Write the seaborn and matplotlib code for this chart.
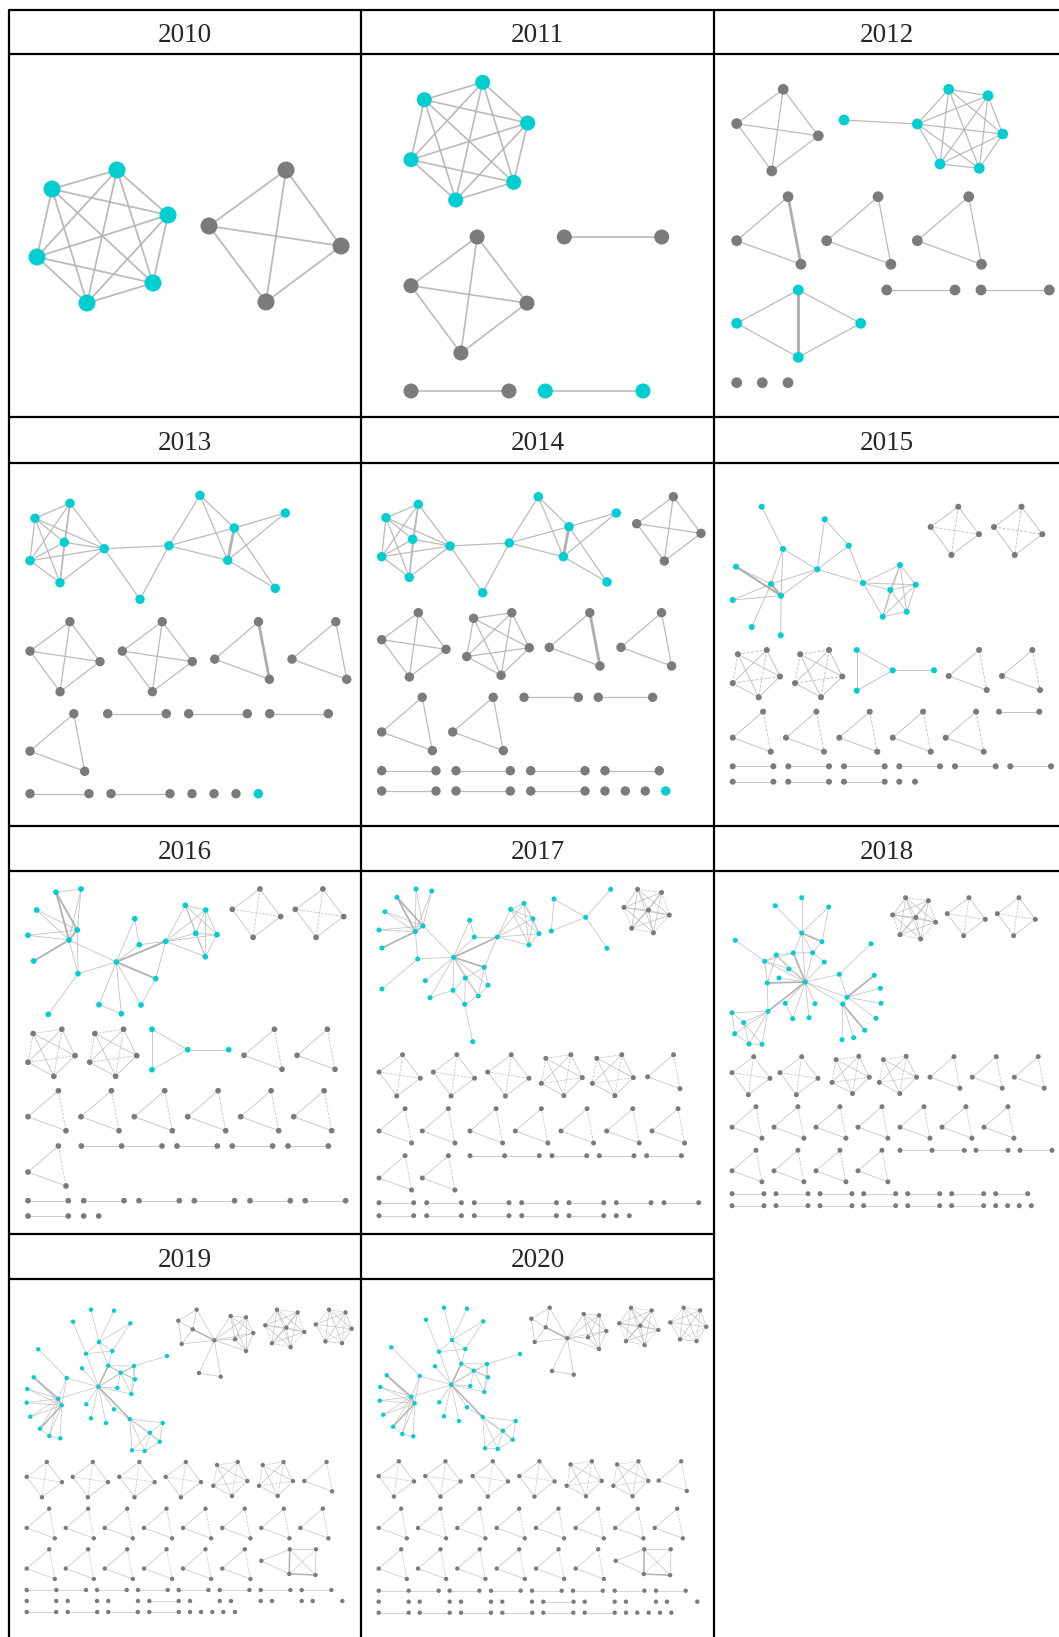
import numpy as np
import pandas as pd
import matplotlib
matplotlib.use("Agg")
import matplotlib.pyplot as plt
from matplotlib.collections import LineCollection
from itertools import combinations
import seaborn as sns

W, H = 1059, 1637
CYAN = "#00CED1"
GRAY = "#7b7b7b"
EDGE = "#b4b4b4"
PALETTE = {"c": CYAN, "g": GRAY}

YEARS = [2010, 2011, 2012, 2013, 2014, 2015, 2016, 2017, 2018, 2019, 2020]

# table grid (pixels)
COL_X = [9, 361, 714, 1059]
ROW_HEAD = [10, 417, 826, 1234]
ROW_TOP = [54, 463, 871, 1279]
ROW_BOT = [417, 826, 1234, 1637]

# unit shapes: nodes, edges, dashed edges, heavy edges
SHAPES = {
    "k4": ([(0.57, 0), (0, 0.42), (1, 0.57), (0.43, 1)],
           list(combinations(range(4), 2)), [(0, 3), (1, 2)], []),
    "k5": ([(0.11, 0.09), (0.72, 0), (1, 0.56), (0.55, 1), (0, 0.70)],
           list(combinations(range(5), 2)), [(0, 1), (1, 3), (2, 4), (0, 4)], []),
    "k6": ([(0.37, 0), (0.83, 0.075), (1, 0.53), (0.73, 0.93), (0.27, 0.88), (0, 0.41)],
           list(combinations(range(6), 2)), [(0, 1), (1, 3), (2, 4), (0, 5), (3, 5)], []),
    "k7": ([(0.30, 0), (0.83, 0.07), (0, 0.40), (0.54, 0.46), (1, 0.57), (0.17, 0.86), (0.65, 0.96)],
           list(combinations(range(7), 2)), [(0, 1), (2, 5), (4, 6), (1, 4), (5, 6)], []),
    "tri": ([(0.76, 0), (0, 0.65), (0.95, 1)], [(0, 1), (1, 2), (0, 2)], [(0, 2)], []),
    "tri_h": ([(0.76, 0), (0, 0.65), (0.95, 1)], [(0, 1), (1, 2), (0, 2)], [], [(0, 2)]),
    "kite5": ([(0, 0.21), (0.52, 0), (1, 0), (0.51, 0.45), (0.99, 0.47)],
              [(0, 1), (0, 3), (1, 3), (1, 2), (1, 4), (2, 4), (3, 4), (2, 3)],
              [(2, 3)], [(1, 3), (3, 4)]),
    "pair": ([(0, 0), (1, 0)], [(0, 1)], [], []),
    "path3": ([(0, 0), (0.5, 0), (1, 0)], [(0, 1), (1, 2)], [], []),
    "dot": ([(0, 0)], [], [], []),
}

# ---- 2010
NODES_2010 = [(108, 116, "c"), (43, 135, "c"), (159, 161, "c"), (28, 203, "c"), (144, 229, "c"),
              (78, 249, "c"), (277, 116, "g"), (200, 172, "g"), (332, 192, "g"), (257, 248, "g")]
CLIQUES_2010 = [(0, 1, 2, 3, 4, 5), (6, 7, 8, 9)]
EDGES_2010, HEAVY_2010, ROWS_2010 = [], [], []

# ---- 2011
NODES_2011 = [(121.7, 28.3, "c"), (63.3, 45.7, "c"), (166.7, 69, "c"), (50, 105.7, "c"),
              (152.7, 128.3, "c"), (94.7, 146, "c")]
CLIQUES_2011 = [(0, 1, 2, 3, 4, 5)]
EDGES_2011, HEAVY_2011 = [], []
ROWS_2011 = [("k4", 183, 116, [50], "g"), ("pair", 183, 97.4, [203.3], "g"),
             ("pair", 337, 98, [50], "g"), ("pair", 337, 97.7, [184.3], "c")]

# ---- 2012
NODES_2012 = [(234.7, 35.3, "c"), (274, 41.7, "c"), (288.7, 80, "c"), (265.3, 114.3, "c"),
              (226, 110, "c"), (203.3, 70, "c"), (130, 66, "c"),
              (84.3, 236, "c"), (22.7, 269.3, "c"), (146.7, 269.3, "c"), (84.3, 303.3, "c")]
CLIQUES_2012 = [(0, 1, 2, 3, 4, 5)]
EDGES_2012 = [(5, 6), (7, 8), (7, 9), (8, 10), (9, 10), (7, 10)]
HEAVY_2012 = [(7, 10)]
ROWS_2012 = [("k4", 35.3, 81.6, [22.7], "g"), ("tri_h", 142.7, 67.6, [22.7], "g"),
             ("tri", 142.7, 67.6, [112.7, 203.3], "g"), ("pair", 236, 68.3, [172.7, 267], "g"),
             ("dot", 328.7, 0, [22.7, 48.3, 74], "g")]

# ---- 2013
NODES_2013 = [(26, 55.3, "c"), (61, 40.3, "c"), (55.3, 79.3, "c"), (21, 97.7, "c"), (51, 119.7, "c"),
              (95.3, 85.7, "c"), (131, 136.3, "c"), (160, 82.7, "c"), (191, 32.3, "c"),
              (225.3, 65, "c"), (218.7, 97.3, "c"), (276.3, 50, "c"), (266.3, 125.3, "c")]
CLIQUES_2013 = [(0, 1, 2, 3, 4, 5)]
EDGES_2013 = [(5, 6), (5, 7), (6, 7), (7, 8), (7, 9), (7, 10), (8, 9), (8, 10),
              (9, 11), (10, 11), (10, 12), (9, 12)]
HEAVY_2013 = [(9, 10)]
ROWS_2013 = [("k4", 158.7, 70, [21, 113.3], "g"), ("tri_h", 158.7, 57.6, [205.7], "g"),
             ("tri", 158.7, 57.6, [283], "g"), ("tri", 250.7, 57.6, [21], "g"),
             ("pair", 250.7, 58.6, [98.7, 179.7, 260.7], "g"), ("pair", 330.7, 59, [21, 102], "g"),
             ("dot", 330.7, 0, [183, 205, 227], "g"), ("dot", 330.7, 0, [249.3], "c")]

# ---- 2014
NODES_2014 = [(25, 54.7, "c"), (57.3, 41.3, "c"), (51.7, 76.3, "c"), (20.7, 93.7, "c"),
              (48.3, 114.3, "c"), (89, 83, "c"), (121.7, 129.7, "c"), (148.3, 80, "c"),
              (177.3, 33.7, "c"), (208, 63.7, "c"), (202.3, 93.7, "c"), (255.3, 50, "c"),
              (246, 119, "c")]
CLIQUES_2014 = [(0, 1, 2, 3, 4, 5)]
EDGES_2014 = EDGES_2013
HEAVY_2014 = [(9, 10)]
ROWS_2014 = [("k4", 33.7, 64.3, [275.7], "g"), ("k4", 149.7, 64.3, [20.7], "g"),
             ("k5", 149.7, 62.6, [105.7], "g"), ("tri_h", 149.7, 53.3, [188.3], "g"),
             ("tri", 149.7, 53.3, [260], "g"), ("tri", 234.3, 53.3, [20.7, 91.7], "g"),
             ("pair", 234.3, 54.3, [163, 237.3], "g"),
             ("pair", 307.7, 54.3, [20.7, 95, 169.7, 244], "g"),
             ("pair", 328, 54.3, [20.7, 95, 169.7], "g"),
             ("dot", 328, 0, [244, 264.3, 284.3], "g"), ("dot", 328, 0, [304.7], "c")]

# ---- 2015
NODES_2015 = [(47.7, 43.7, "c"), (69, 86, "c"), (22, 103.7, "c"), (57, 121, "c"), (67, 132.7, "c"),
              (18.7, 137, "c"), (37.7, 164, "c"), (66.7, 172.3, "c"), (103.3, 106.3, "c"),
              (110.7, 56.3, "c"), (134.7, 82.7, "c"), (149, 120, "c"), (186, 102, "c"),
              (201.7, 121.7, "c"), (176.3, 127, "c"), (192.7, 148.7, "c"), (168.7, 153.7, "c"),
              (142.7, 187, "c"), (142.7, 227.7, "c"), (178.7, 207.3, "c"), (220, 207.3, "c")]
CLIQUES_2015 = [(12, 13, 14, 15, 16)]
EDGES_2015 = [(0, 1), (1, 3), (1, 4), (1, 8), (2, 3), (2, 4), (3, 4), (3, 5), (4, 5), (3, 6),
              (4, 7), (3, 8), (4, 8), (8, 9), (8, 10), (9, 10), (8, 11), (10, 11), (11, 12),
              (11, 13), (11, 14), (11, 16), (17, 18), (17, 19), (18, 19), (19, 20)]
HEAVY_2015 = [(2, 4), (3, 4)]
ROWS_2015 = [("k4", 43.7, 48.3, [216.7, 280], "g"), ("k5", 187, 47.3, [18.7, 81], "g"),
             ("tri", 187, 40, [234.7, 288], "g"), ("pair", 248.7, 40.3, [285], "g"),
             ("tri", 248.7, 40, [18.7, 72, 125.3, 178.7, 231.7], "g"),
             ("pair", 303.3, 40.7, [18.7, 74.3, 130, 185.3, 241, 296.3], "g"),
             ("pair", 318.7, 40.7, [18.7, 74.3, 130], "g"), ("dot", 318.7, 0, [185.3, 201], "g")]

# ---- 2016
NODES_2016 = [(47, 21.3, "c"), (72, 18, "c"), (27.7, 39, "c"), (19, 64.3, "c"), (68.3, 59, "c"),
              (60, 69, "c"), (24.7, 90, "c"), (69, 102.7, "c"), (39.3, 143.3, "c"), (107.3, 91, "c"),
              (125.7, 47.7, "c"), (130.3, 73.7, "c"), (156.7, 70.3, "c"), (146.7, 107.7, "c"),
              (90, 133.7, "c"), (112.3, 142.7, "c"), (132, 134, "c"), (176.3, 34.3, "c"),
              (196.7, 39, "c"), (186.7, 62.3, "c"), (208, 63.7, "c"), (196.3, 85.7, "c"),
              (143, 158.3, "c"), (143, 198.7, "c"), (178.7, 178.7, "c"), (219.7, 178.7, "c")]
CLIQUES_2016 = [(17, 18, 19, 20, 21)]
EDGES_2016 = [(0, 1), (0, 4), (0, 5), (1, 4), (1, 5), (2, 4), (2, 5), (3, 4), (3, 5), (4, 5), (6, 5),
              (4, 7), (5, 7), (5, 9), (7, 9), (7, 8), (9, 10), (9, 11), (10, 11), (9, 12), (9, 13),
              (12, 13), (9, 14), (9, 15), (14, 15), (9, 16), (13, 16), (11, 12), (12, 17),
              (12, 18), (12, 19), (12, 20), (12, 21), (22, 23), (22, 24), (23, 24), (24, 25)]
HEAVY_2016 = [(0, 4), (0, 5), (4, 5), (6, 5), (9, 12), (9, 13)]
ROWS_2016 = [("k4", 18, 48.4, [223.3, 286.3], "g"), ("k5", 158.3, 47, [19, 80.7], "g"),
             ("tri", 158.3, 40, [235, 288], "g"),
             ("tri", 219.7, 40, [19, 72, 125.3, 178.7, 231.7, 284.7], "g"),
             ("tri", 275, 40, [19], "g"), ("path3", 275, 80.7, [72.3], "g"),
             ("pair", 275, 40.3, [168, 223.3, 279], "g"),
             ("pair", 329.7, 40.3, [19, 74.7, 130, 185.3, 241, 296.3], "g"),
             ("pair", 345, 40.3, [19], "g"), ("dot", 345, 0, [74.7, 89.7], "g")]

# ---- 2017
NODES_2017 = [(36, 26.3, "c"), (55, 18, "c"), (70.7, 20, "c"), (24, 40.7, "c"), (18, 59, "c"),
              (54.3, 60.7, "c"), (62, 55, "c"), (21, 77, "c"), (56.7, 88, "c"), (21, 118, "c"),
              (92.7, 86.3, "c"), (108.7, 49.3, "c"), (113.3, 66, "c"), (136.3, 66, "c"),
              (149.7, 38.3, "c"), (163, 32.3, "c"), (172, 47.7, "c"), (178, 62.7, "c"),
              (168, 74, "c"), (123.3, 96.3, "c"), (104.3, 107, "c"), (127, 114.3, "c"),
              (92, 119.3, "c"), (117.3, 125, "c"), (103.7, 133.3, "c"), (64.3, 109.7, "c"),
              (69, 126.7, "c"), (111.7, 170.7, "c"),
              (193, 28, "c"), (190.3, 60, "c"), (224.7, 46.3, "c"), (249.7, 18.3, "c"), (246, 77.3, "c")]
CLIQUES_2017 = [(14, 15, 16, 17, 18)]
EDGES_2017 = [(0, 5), (0, 6), (1, 5), (1, 6), (2, 6), (2, 5), (3, 5), (3, 6), (4, 5), (4, 6), (5, 6),
              (7, 5), (5, 8), (8, 9), (8, 10), (6, 10), (10, 11), (10, 12), (11, 12), (10, 13),
              (12, 13), (13, 14), (13, 15), (13, 16), (13, 17), (13, 18), (13, 19), (10, 19),
              (10, 20), (10, 22), (10, 23), (10, 21), (10, 25), (10, 26), (19, 20), (19, 21),
              (19, 23), (20, 22), (20, 23), (20, 24), (21, 23), (22, 24), (23, 24), (22, 26),
              (24, 27), (28, 29), (29, 30), (28, 30), (30, 31), (30, 32)]
HEAVY_2017 = [(0, 5), (0, 6), (5, 6), (7, 5), (10, 13), (10, 19)]
ROWS_2017 = [("k7", 18.3, 45.3, [263], "g"),
             ("k4", 183.7, 41.3, [18, 72.3, 126.7], "g"), ("k5", 183.7, 41, [180.3, 231.3], "g"),
             ("tri", 183.7, 34, [286.7], "g"),
             ("tri", 237.7, 34.3, [18, 61.3, 109, 154.3, 200, 245.7, 291], "g"),
             ("tri", 284.7, 34.3, [18, 61.3], "g"), ("path3", 284.7, 69.3, [109], "g"),
             ("pair", 284.7, 34.7, [191, 238.3, 285.7], "g"),
             ("pair", 331.7, 34.7, [18, 65.7, 113.3, 160.7, 208, 255.3, 303], "g"),
             ("pair", 344.7, 34.7, [18, 65.7, 113.3, 160.7, 208], "g"),
             ("dot", 344.7, 0, [255.3, 268.3], "g")]

# ---- 2018
NODES_2018 = [(61.3, 34.7, "c"), (87.7, 26.7, "c"), (114.7, 36, "c"), (21.3, 69.3, "c"),
              (87.7, 62, "c"), (108, 70.7, "c"), (50.7, 90.3, "c"), (62.3, 84, "c"), (79.3, 82, "c"),
              (98.7, 81.7, "c"), (110.3, 91, "c"), (75, 98, "c"), (65, 107, "c"), (53.3, 112, "c"),
              (91.3, 111, "c"), (125.3, 103.3, "c"), (157, 72.7, "c"), (160.3, 104.3, "c"),
              (166.3, 117.3, "c"), (167, 132.3, "c"), (162, 147.3, "c"), (150.7, 159.3, "c"),
              (139.7, 166.7, "c"), (128, 168.7, "c"), (133, 126.3, "c"), (128.7, 133, "c"),
              (71.3, 132.3, "c"), (78.7, 147.7, "c"), (101, 132.7, "c"), (95, 146.7, "c"),
              (54, 140.3, "c"), (18, 141.7, "c"), (29.7, 151.7, "c"), (20.7, 162.7, "c"),
              (35, 173, "c"), (48, 173.3, "c")]
CLIQUES_2018 = []
EDGES_2018 = [(0, 4), (1, 4), (2, 4), (2, 5), (4, 5), (4, 8), (4, 9), (5, 9), (4, 14), (3, 6), (6, 7),
              (6, 8), (7, 8), (6, 11), (7, 11), (6, 13), (7, 13), (8, 14), (6, 14), (7, 14), (9, 14),
              (10, 14), (11, 14), (12, 14), (13, 14), (8, 9), (9, 10), (13, 30), (14, 30), (14, 15),
              (14, 24), (14, 25), (14, 26), (14, 27), (14, 28), (14, 29), (15, 16), (15, 24),
              (24, 17), (24, 18), (24, 19), (24, 20), (25, 21), (25, 22), (25, 23), (24, 25),
              (26, 27), (30, 31), (30, 32), (30, 33), (30, 34), (30, 35), (31, 32), (32, 34),
              (32, 35), (33, 34), (34, 35), (31, 33)]
HEAVY_2018 = [(4, 5), (8, 14), (13, 14), (14, 30), (24, 17), (25, 21)]
ROWS_2018 = [("k7", 26.7, 43, [178.7], "g"), ("k4", 26.7, 38, [233.3, 283.3], "g"),
             ("k4", 185.7, 38, [18, 66], "g"), ("k5", 185.3, 37.3, [118, 165.3], "g"),
             ("tri", 185.7, 31.5, [216, 258.3, 300.3], "g"),
             ("tri", 235.7, 31.5, [18, 60, 102, 144, 186, 228, 270], "g"),
             ("tri", 279.3, 31.5, [18, 60, 102, 144], "g"), ("path3", 279.3, 64.3, [186], "g"),
             ("pair", 279.3, 32, [262, 306], "g"),
             ("pair", 322.7, 32, [18, 62, 106, 149.7, 193.7, 237.7, 281.7], "g"),
             ("pair", 334.7, 32, [18, 62, 106, 149.7, 193.7, 237.7], "g"),
             ("dot", 334.7, 0, [281.7, 293.7, 305.3, 317.3], "g")]

# ---- 2019
NODES_2019 = [(82, 30.7, "c"), (105, 31.7, "c"), (64, 42.7, "c"), (121.3, 44.3, "c"), (90, 63, "c"),
              (29.3, 70.3, "c"), (77, 74.7, "c"), (103.3, 72, "c"), (158, 77, "c"), (73, 89.3, "c"),
              (99.3, 86.7, "c"), (125, 87, "c"), (24.7, 98.3, "c"), (57.7, 99, "c"),
              (111.7, 93.7, "c"), (126, 100.3, "c"), (89.3, 107.7, "c"), (108.3, 109, "c"),
              (122.3, 115, "c"), (18.3, 110, "c"), (49.3, 119.7, "c"), (52.7, 126.3, "c"),
              (17.7, 123.7, "c"), (77.3, 125.3, "c"), (105, 130.3, "c"), (21.3, 137.7, "c"),
              (82, 139.3, "c"), (97, 144, "c"), (120.7, 140, "c"), (31, 149.7, "c"),
              (40.3, 157, "c"), (51.3, 159.3, "c"), (153.7, 144, "c"), (141, 153.7, "c"),
              (150.7, 162.7, "c"), (123, 171.3, "c"), (135.7, 172, "c"),
              (187.7, 30.7, "g"), (169.3, 41.7, "g"), (183.7, 50.3, "g"), (172.7, 65, "g"),
              (205.3, 61.3, "g"), (221.7, 37, "g"), (237, 38.3, "g"), (244.3, 54, "g"),
              (226, 60.3, "g"), (237, 72, "g"), (190, 94, "g"), (211.7, 97.7, "g")]
CLIQUES_2019 = [(41, 42, 43, 44, 45, 46)]
EDGES_2019 = [(0, 4), (1, 4), (2, 6), (3, 4), (3, 7), (4, 6), (4, 7), (4, 10), (6, 7), (6, 16),
              (7, 10), (5, 13), (8, 11), (9, 16), (10, 11), (10, 14), (10, 15), (10, 16), (11, 14),
              (11, 15), (11, 18), (14, 15), (14, 17), (14, 18), (15, 18), (16, 17), (16, 18),
              (16, 14), (16, 11), (16, 13), (16, 20), (16, 23), (16, 24), (16, 26), (16, 27),
              (16, 28), (24, 28), (28, 32), (28, 33), (28, 34), (28, 35), (28, 36), (32, 33),
              (32, 34), (33, 34), (33, 35), (33, 36), (34, 36), (35, 36), (12, 20), (12, 21),
              (13, 20), (13, 21), (19, 20), (19, 21), (22, 20), (22, 21), (25, 20), (25, 21),
              (29, 20), (29, 21), (30, 20), (30, 21), (31, 21), (20, 21), (29, 30), (30, 31),
              (37, 38), (37, 39), (38, 39), (38, 40), (39, 40), (37, 41), (39, 41), (40, 41),
              (41, 47), (41, 48), (47, 48)]
HEAVY_2019 = [(10, 16), (16, 28), (12, 20), (29, 21), (20, 21), (39, 41)]
ROWS_2019 = [("k7", 30.7, 39, [256.3], "g"), ("k6", 30.7, 36, [306.7], "g"),
             ("k4", 183, 35.3, [17.7, 63.7, 110.3, 156.7], "g"),
             ("k5", 183, 34, [204.3, 250], "g"), ("tri", 183, 29.3, [295.3], "g"),
             ("tri", 229.7, 29.6, [17.7, 56.7, 95.7, 135, 174, 213.3, 252.3, 291.3], "g"),
             ("tri", 270.3, 29.6, [17.7, 56.7, 95.7, 135, 174, 213.3], "g"),
             ("kite5", 270.3, 54.7, [252.3], "g"),
             ("path3", 311, 59.3, [17.7], "g"),
             ("pair", 311, 29.7, [88, 129, 169.7, 210.7, 251.7, 292.7], "g"),
             ("dot", 322, 0, [17.7, 47.3, 58.7, 88, 99.3, 129, 181, 210.7, 222, 251.7, 263,
                              292.7, 303.7, 333.3], "g"),
             ("pair", 322, 29.4, [140.3], "g"),
             ("pair", 333, 29.5, [17.7, 58.7, 99.3, 140.3], "g"),
             ("dot", 333, 0, [181, 192, 203.3, 214.3, 226], "g")]

# ---- 2020 (same core network as 2019, drawn slightly higher)
SHIFT_2020 = (1, -2)
NODES_2020 = [(x + SHIFT_2020[0], y + SHIFT_2020[1], g) for x, y, g in NODES_2019]
CLIQUES_2020, EDGES_2020, HEAVY_2020 = CLIQUES_2019, EDGES_2019, HEAVY_2019
ROWS_2020 = [("k7", 28.7, 39, [258.3], "g"), ("k6", 28.7, 36, [309.3], "g"),
             ("k4", 182.3, 35.3, [17.7, 64.3, 111.7, 158.3], "g"),
             ("k5", 182.3, 35, [205.7, 252.3], "g"), ("tri", 182.3, 29.6, [297.7], "g"),
             ("tri", 229.7, 29.6, [17.7, 57, 96.3, 135.7, 175, 214.7, 254.3, 293.7], "g"),
             ("tri", 270.3, 29.6, [17.7, 57, 96.3, 135.7, 175, 214.7], "g"),
             ("kite5", 270.3, 55, [254.7], "g"),
             ("path3", 311.7, 60, [17.7], "g"),
             ("pair", 311.7, 29.7, [88.7, 130, 171, 212, 253.7, 295], "g"),
             ("dot", 322.7, 0, [17.7, 47.7, 58.7, 88.7, 100, 130, 141.3, 171, 223.7, 253.7, 265,
                                295, 306, 336.3], "g"),
             ("pair", 322.7, 30.3, [182.3], "g"),
             ("pair", 333.7, 30, [17.7, 58.7, 100, 141.3, 182.3, 223.7], "g"),
             ("dot", 333.7, 0, [265, 276.3, 287.7, 299, 310.3], "g")]

PANELS = {
    2010: (NODES_2010, CLIQUES_2010, EDGES_2010, HEAVY_2010, ROWS_2010),
    2011: (NODES_2011, CLIQUES_2011, EDGES_2011, HEAVY_2011, ROWS_2011),
    2012: (NODES_2012, CLIQUES_2012, EDGES_2012, HEAVY_2012, ROWS_2012),
    2013: (NODES_2013, CLIQUES_2013, EDGES_2013, HEAVY_2013, ROWS_2013),
    2014: (NODES_2014, CLIQUES_2014, EDGES_2014, HEAVY_2014, ROWS_2014),
    2015: (NODES_2015, CLIQUES_2015, EDGES_2015, HEAVY_2015, ROWS_2015),
    2016: (NODES_2016, CLIQUES_2016, EDGES_2016, HEAVY_2016, ROWS_2016),
    2017: (NODES_2017, CLIQUES_2017, EDGES_2017, HEAVY_2017, ROWS_2017),
    2018: (NODES_2018, CLIQUES_2018, EDGES_2018, HEAVY_2018, ROWS_2018),
    2019: (NODES_2019, CLIQUES_2019, EDGES_2019, HEAVY_2019, ROWS_2019),
    2020: (NODES_2020, CLIQUES_2020, EDGES_2020, HEAVY_2020, ROWS_2020),
}

# node marker size (pt^2), edge width (pt), dashed template edges
STYLE = {2010: (150, 1.3, False), 2011: (117, 1.2, False), 2012: (60, 0.9, False),
         2013: (46, 0.9, False), 2014: (46, 0.9, False), 2015: (19, 0.7, True),
         2016: (17, 0.6, True), 2017: (13, 0.55, True), 2018: (13, 0.55, True),
         2019: (10, 0.5, True), 2020: (10, 0.5, True)}


def build(year):
    nodes, cliques, edges, heavy, rows = PANELS[year]
    pts = list(nodes)
    segs = []  # (p, q, heavy, dashed)
    for cl in cliques:
        for i, j in combinations(cl, 2):
            segs.append((pts[i], pts[j], False, False))
    for i, j in edges:
        segs.append((pts[i], pts[j], False, False))
    for i, j in heavy:
        segs.append((pts[i], pts[j], True, False))
    for shape, top, size, xs, grp in rows:
        unit, sedges, sdash, sheavy = SHAPES[shape]
        for x0 in xs:
            loc = [(x0 + u * size, top + v * size, grp) for u, v in unit]
            for i, j in sedges:
                segs.append((loc[i], loc[j], False, (i, j) in sdash))
            for i, j in sheavy:
                segs.append((loc[i], loc[j], True, False))
            pts.extend(loc)
    df = pd.DataFrame(pts, columns=["x", "y", "group"])
    return df, segs


sns.set_style("white")
fig = plt.figure(figsize=(W / 100, H / 100), dpi=100)

bg = fig.add_axes([0, 0, 1, 1])
bg.set_xlim(0, W)
bg.set_ylim(H, 0)
bg.axis("off")
LW = 1.6
for x in COL_X[:3]:
    bg.plot([x, x], [ROW_HEAD[0], H], color="black", lw=LW, solid_capstyle="butt")
for r in range(4):
    right = COL_X[2] if r == 3 else W
    bg.plot([COL_X[0], right], [ROW_HEAD[r], ROW_HEAD[r]], color="black", lw=LW)
    bg.plot([COL_X[0], right], [ROW_TOP[r], ROW_TOP[r]], color="black", lw=LW)

for k, year in enumerate(YEARS):
    r, c = divmod(k, 3)
    x0, x1 = COL_X[c], COL_X[c + 1]
    bg.text((x0 + x1) / 2, (ROW_HEAD[r] + ROW_TOP[r]) / 2 + 4, str(year),
            ha="center", va="center", fontsize=19.5, family="Liberation Serif")

    pw, ph = x1 - x0, ROW_BOT[r] - ROW_TOP[r]
    ax = fig.add_axes([x0 / W, 1 - ROW_BOT[r] / H, pw / W, ph / H])
    ax.set_xlim(0, pw)
    ax.set_ylim(ph, 0)
    ax.patch.set_alpha(0)

    s, lw, dash = STYLE[year]
    df, segs = build(year)
    lines = [[p[:2], q[:2]] for p, q, _, _ in segs]
    widths = [lw * 2.3 if hv else lw for _, _, hv, _ in segs]
    styles = [(0, (3, 1.5)) if (dash and d) else "solid" for _, _, _, d in segs]
    colors = ["#aaaaaa" if hv else EDGE for _, _, hv, _ in segs]
    lc = LineCollection(lines, colors=colors, linewidths=widths, linestyles=styles,
                        alpha=0.9 if year < 2015 else 0.8, zorder=1)
    ax.add_collection(lc)
    sns.scatterplot(data=df, x="x", y="y", hue="group", palette=PALETTE, s=s,
                    linewidth=0, legend=False, ax=ax, zorder=3)
    ax.set_xlim(0, pw)
    ax.set_ylim(ph, 0)
    ax.axis("off")

fig.savefig("out.png", dpi=100)
